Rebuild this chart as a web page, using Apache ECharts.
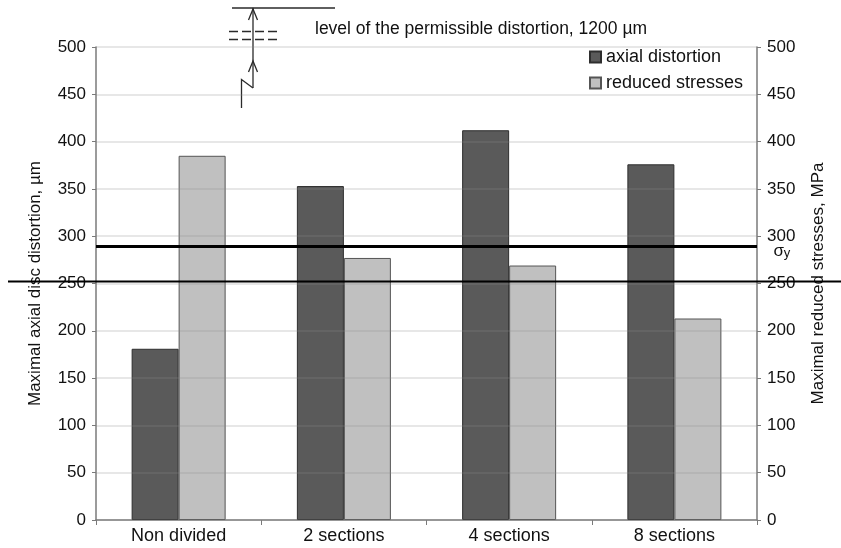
<!DOCTYPE html>
<html>
<head>
<meta charset="utf-8">
<script src="https://cdn.jsdelivr.net/npm/echarts@6/dist/echarts.min.js"></script>
<style>
  html, body { margin: 0; padding: 0; background: #fff; }
  #chart { width: 841px; height: 548px; }
</style>
</head>
<body>
<div id="chart"></div>
<script>
// Disc variants along the x axis
const categories = ['Non divided', '2 sections', '4 sections', '8 sections'];
// Maximal axial disc distortion, µm (left axis)
const axialDistortion = [181, 353, 412, 376];
// Maximal reduced stresses, MPa (right axis)
const reducedStresses = [385, 277, 269, 213];
// Shared value-axis range for both axes
const axisMin = 0;
const axisMax = 500;
const axisStep = 50;
// Yield stress σy, MPa (heavy line)
const yieldStress = 289;
// Thin reference level, µm
const referenceLevel = 252;

const FONT = '"Liberation Sans", Arial, sans-serif';
const TEXT = '#111';
const AXIS = '#7a7a7a';

const chart = echarts.init(document.getElementById('chart'), null, { renderer: 'canvas' });

const valueAxisBase = {
  type: 'value',
  min: axisMin,
  max: axisMax,
  interval: axisStep,
  nameLocation: 'middle',
  nameTextStyle: { fontFamily: FONT, fontSize: 17, color: TEXT },
  axisLine: { show: true, lineStyle: { color: AXIS, width: 1.5 } },
  axisTick: { show: true, length: 4, lineStyle: { color: AXIS } },
  axisLabel: { fontFamily: FONT, fontSize: 17, color: TEXT, margin: 10, padding: [6, 0, 0, 0] }
};

chart.setOption({
  animation: false,
  backgroundColor: '#fff',
  grid: { left: 96, right: 84, top: 47, bottom: 28, containLabel: false },
  legend: {
    orient: 'vertical',
    left: 589,
    top: 48,
    padding: 0,
    icon: 'rect',
    itemWidth: 11,
    itemHeight: 11,
    itemGap: 8,
    textStyle: { fontFamily: FONT, fontSize: 18, color: TEXT },
    data: ['axial distortion', 'reduced stresses']
  },
  xAxis: {
    type: 'category',
    data: categories,
    axisLine: { lineStyle: { color: AXIS, width: 1.5 } },
    axisTick: { show: true, length: 5, alignWithLabel: false, lineStyle: { color: AXIS } },
    axisLabel: { fontFamily: FONT, fontSize: 18, color: TEXT, margin: 7 }
  },
  yAxis: [
    Object.assign({}, valueAxisBase, {
      position: 'left',
      name: 'Maximal axial disc distortion, µm',
      nameGap: 52,
      z: 3,
      splitLine: { show: true, lineStyle: { color: 'rgba(140,140,140,0.28)', width: 1.5 } }
    }),
    Object.assign({}, valueAxisBase, {
      position: 'right',
      name: 'Maximal reduced stresses, MPa',
      nameGap: 53,
      nameRotate: 90,
      splitLine: { show: false }
    })
  ],
  series: [
    {
      name: 'axial distortion',
      type: 'bar',
      yAxisIndex: 0,
      data: axialDistortion,
      barWidth: 47,
      barGap: '0%',
      itemStyle: { color: '#5a5a5a', borderColor: '#2e2e2e', borderWidth: 1 }
    },
    {
      name: 'reduced stresses',
      type: 'bar',
      yAxisIndex: 1,
      data: reducedStresses,
      barWidth: 47,
      barGap: '0%',
      itemStyle: { color: '#c0c0c0', borderColor: '#555', borderWidth: 1 },
      markLine: {
        silent: true,
        symbol: 'none',
        label: { show: false },
        lineStyle: { color: '#000', width: 3, type: 'solid' },
        data: [{ yAxis: yieldStress }]
      }
    }
  ]
});

// Thin reference level spanning the full width, placed through the left value axis
const yRef = chart.convertToPixel({ yAxisIndex: 0 }, referenceLevel);
const ySigma = chart.convertToPixel({ yAxisIndex: 1 }, yieldStress);
const xRight = chart.convertToPixel({ xAxisIndex: 0 }, categories[categories.length - 1]) + 83;

const ink = { stroke: '#2a2a2a', lineWidth: 1.3 };

chart.setOption({
  graphic: [
    {
      type: 'line', z: 10, silent: true,
      shape: { x1: 8, y1: yRef, x2: 841, y2: yRef },
      style: { stroke: '#000', lineWidth: 2 }
    },
    {
      type: 'text', z: 10, silent: true,
      x: xRight + 16, y: ySigma + 5,
      style: {
        text: 'σ{s|y}', fontFamily: FONT, fontSize: 17, fill: TEXT,
        verticalAlign: 'middle',
        rich: { s: { fontFamily: FONT, fontSize: 13, fill: TEXT, padding: [3, 0, 0, 0] } }
      }
    },
    // Off-scale marker for the permissible distortion level
    {
      type: 'group', silent: true, z: 10,
      children: [
        { type: 'line', shape: { x1: 232, y1: 8, x2: 335, y2: 8 }, style: ink },
        { type: 'line', shape: { x1: 253, y1: 8, x2: 253, y2: 88 }, style: ink },
        { type: 'polyline', shape: { points: [[248.5, 20], [253, 9], [257.5, 20]] }, style: Object.assign({ fill: 'none' }, ink) },
        { type: 'polyline', shape: { points: [[248.5, 72], [253, 61], [257.5, 72]] }, style: Object.assign({ fill: 'none' }, ink) },
        { type: 'line', shape: { x1: 229, y1: 31.5, x2: 280, y2: 31.5 }, style: Object.assign({ lineDash: [9, 4] }, ink) },
        { type: 'line', shape: { x1: 229, y1: 39.5, x2: 280, y2: 39.5 }, style: Object.assign({ lineDash: [9, 4] }, ink) },
        { type: 'polyline', shape: { points: [[253, 88], [241.5, 79.5], [241.5, 108]] }, style: Object.assign({ fill: 'none' }, ink) },
        {
          type: 'text', x: 315, y: 29,
          style: {
            text: 'level of the permissible distortion, 1200 µm',
            fontFamily: FONT, fontSize: 17.5, fill: TEXT, verticalAlign: 'middle'
          }
        }
      ]
    }
  ]
});
</script>
</body>
</html>
